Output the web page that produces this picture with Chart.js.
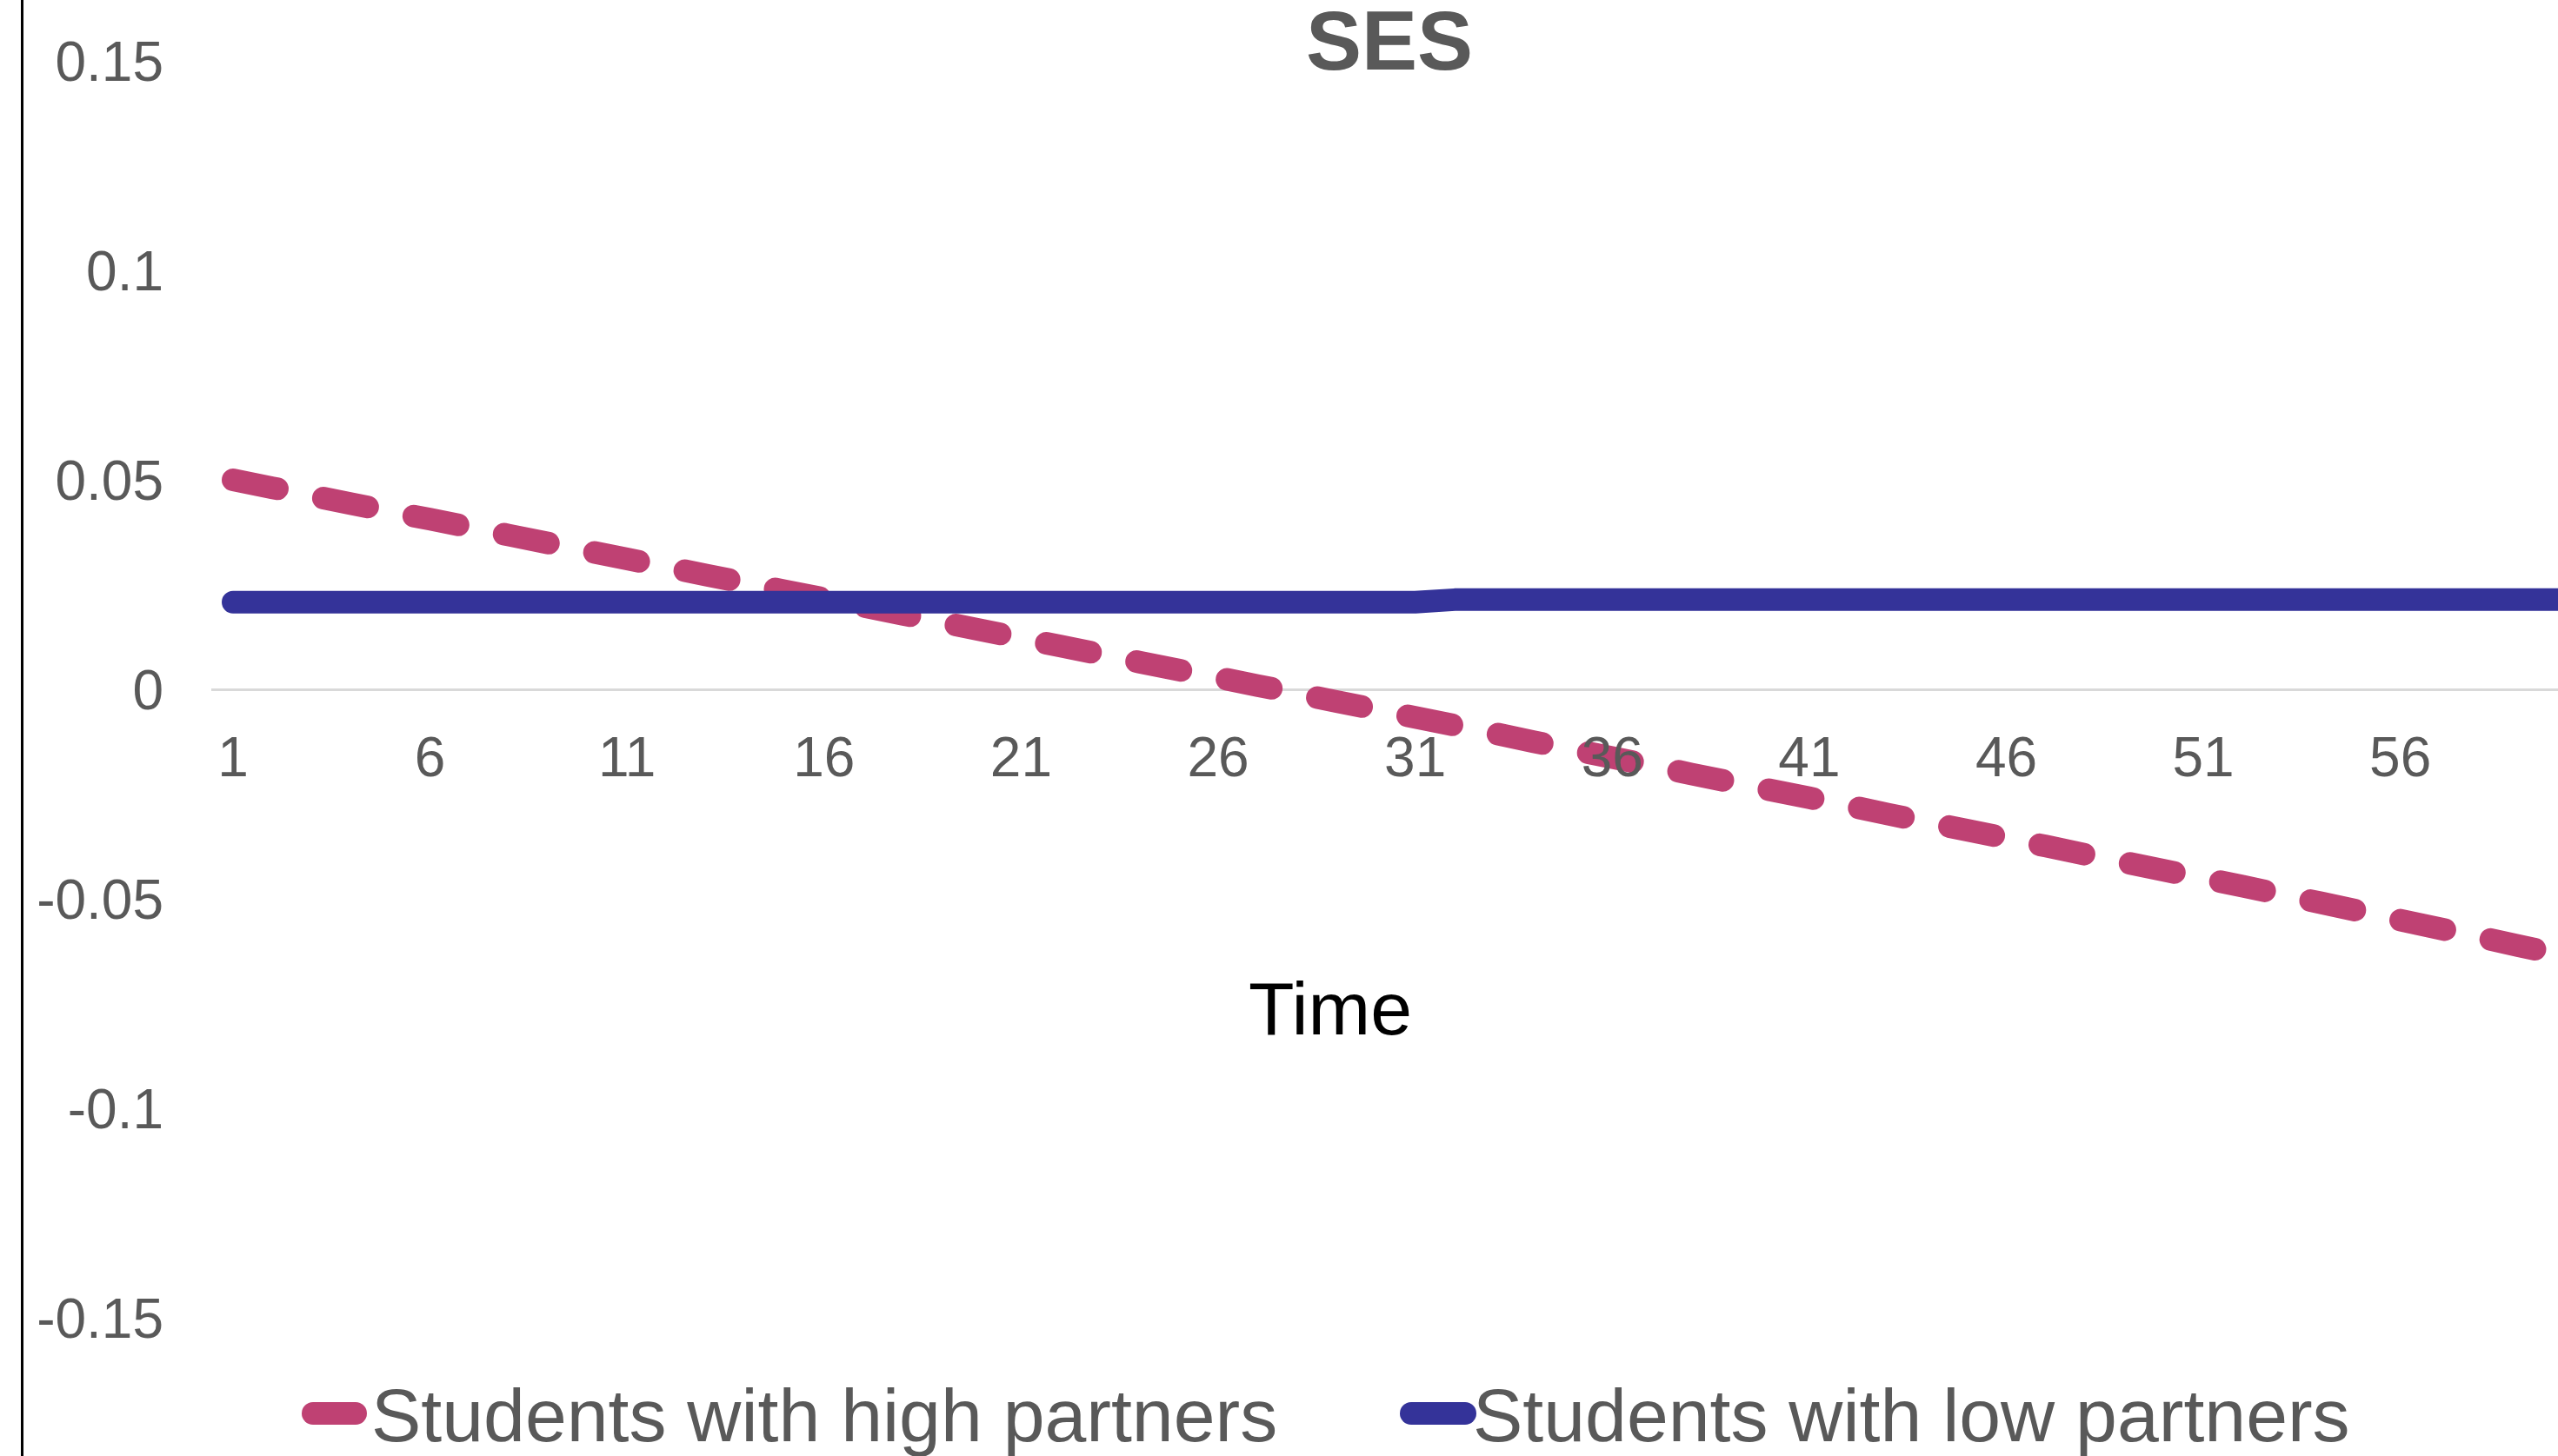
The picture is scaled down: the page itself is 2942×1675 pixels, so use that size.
<!DOCTYPE html>
<html>
<head>
<meta charset="utf-8">
<title>SES</title>
<script src="https://cdn.jsdelivr.net/npm/chart.js@4.4.1/dist/chart.umd.min.js"></script>
<style>
  html, body { margin: 0; padding: 0; background: #ffffff; overflow: hidden; }
  #wrap { position: relative; width: 2942px; height: 1675px; }
  canvas { display: block; }
</style>
</head>
<body>
<div id="wrap"><canvas id="chart" width="2942" height="1675"></canvas></div>
<script>
// ---- chart text ----
const chartTitle = 'SES';
const xAxisTitle = 'Time';
const seriesNames = ['Students with high partners', 'Students with low partners'];

// ---- time points (x) ----
const timePoints = [
  1, 2, 3, 4, 5, 6, 7, 8, 9, 10,
  11, 12, 13, 14, 15, 16, 17, 18, 19, 20,
  21, 22, 23, 24, 25, 26, 27, 28, 29, 30,
  31, 32, 33, 34, 35, 36, 37, 38, 39, 40,
  41, 42, 43, 44, 45, 46, 47, 48, 49, 50,
  51, 52, 53, 54, 55, 56, 57, 58, 59, 60
];

// ---- tick labels ----
const xTickValues = [1, 6, 11, 16, 21, 26, 31, 36, 41, 46, 51, 56];
const yTickValues = [-0.15, -0.1, -0.05, 0, 0.05, 0.1, 0.15];

// ---- series values ----
const highPartners = [
  0.0500, 0.0481, 0.0462, 0.0443, 0.0424, 0.0406, 0.0387, 0.0368, 0.0349, 0.0330,
  0.0311, 0.0292, 0.0273, 0.0254, 0.0235, 0.0217, 0.0198, 0.0179, 0.0160, 0.0141,
  0.0122, 0.0103, 0.0084, 0.0065, 0.0046, 0.0028, 0.0009, -0.0010, -0.0029, -0.0048,
  -0.0067, -0.0086, -0.0105, -0.0125, -0.0144, -0.0163, -0.0182, -0.0202, -0.0221, -0.0240,
  -0.0259, -0.0278, -0.0298, -0.0317, -0.0336, -0.0355, -0.0374, -0.0394, -0.0413, -0.0432,
  -0.0451, -0.0470, -0.0490, -0.0510, -0.0530, -0.0551, -0.0571, -0.0591, -0.0612, -0.0632
];
const lowPartners = [
  0.0208, 0.0208, 0.0208, 0.0208, 0.0208, 0.0208, 0.0208, 0.0208, 0.0208, 0.0208,
  0.0208, 0.0208, 0.0208, 0.0208, 0.0208, 0.0208, 0.0208, 0.0208, 0.0208, 0.0208,
  0.0208, 0.0208, 0.0208, 0.0208, 0.0208, 0.0208, 0.0208, 0.0208, 0.0208, 0.0208,
  0.0208, 0.0214, 0.0214, 0.0214, 0.0214, 0.0214, 0.0214, 0.0214, 0.0214, 0.0214,
  0.0214, 0.0214, 0.0214, 0.0214, 0.0214, 0.0214, 0.0214, 0.0214, 0.0214, 0.0214,
  0.0214, 0.0214, 0.0214, 0.0214, 0.0214, 0.0214, 0.0214, 0.0214, 0.0214, 0.0214
];

// ---- styling ----
const FONT = '"Liberation Sans", Arial, sans-serif';
const PINK = '#BF4173';
const BLUE = '#343399';
const TEXT_GREY = '#595959';
const LINE_W = 26;
const Y_LABEL_NUDGE = 5; // digits sit slightly below their tick

const toPoints = (vals) => timePoints.map((t, i) => ({ x: t, y: vals[i] }));

// Frame line, overlay title, axis title and legend
const decor = {
  id: 'decor',
  beforeDraw(chart) {
    const ctx = chart.ctx;
    ctx.save();
    ctx.fillStyle = '#ffffff';
    ctx.fillRect(0, 0, chart.width, chart.height);
    ctx.fillStyle = '#000000';
    ctx.fillRect(24, 0, 3, chart.height);
    ctx.restore();

    const yScale = chart.scales.y;
    yScale.getLabelItems(chart.chartArea).forEach((item) => {
      if (!item._nudged) {
        item.options.translation[1] += Y_LABEL_NUDGE;
        item._nudged = true;
      }
    });
  },
  afterDraw(chart) {
    const ctx = chart.ctx;
    ctx.save();
    ctx.textBaseline = 'alphabetic';

    ctx.fillStyle = TEXT_GREY;
    ctx.font = 'bold 96px ' + FONT;
    ctx.textAlign = 'center';
    ctx.fillText(chartTitle, 1598, 80);

    ctx.fillStyle = '#000000';
    ctx.font = '86px ' + FONT;
    ctx.fillText(xAxisTitle, 1530, 1190);

    const legendItems = [
      { x: 347, len: 75, textX: 427 },
      { x: 1610, len: 88, textX: 1694 }
    ];
    ctx.font = '86px ' + FONT;
    ctx.textAlign = 'left';
    chart.data.datasets.forEach((ds, i) => {
      const it = legendItems[i];
      ctx.strokeStyle = ds.borderColor;
      ctx.lineWidth = LINE_W;
      ctx.lineCap = 'round';
      ctx.beginPath();
      ctx.moveTo(it.x + LINE_W / 2, 1626);
      ctx.lineTo(it.x + it.len - LINE_W / 2, 1626);
      ctx.stroke();
      ctx.fillStyle = TEXT_GREY;
      ctx.fillText(ds.label, it.textX, 1658);
    });
    ctx.restore();
  }
};

new Chart(document.getElementById('chart'), {
  type: 'line',
  data: {
    datasets: [
      {
        label: seriesNames[0],
        data: toPoints(highPartners),
        borderColor: PINK,
        backgroundColor: PINK,
        borderWidth: LINE_W,
        borderDash: [52, 54],
        borderCapStyle: 'round',
        borderJoinStyle: 'round',
        pointRadius: 0,
        tension: 0,
        order: 1
      },
      {
        label: seriesNames[1],
        data: toPoints(lowPartners),
        borderColor: BLUE,
        backgroundColor: BLUE,
        borderWidth: LINE_W,
        borderCapStyle: 'round',
        borderJoinStyle: 'round',
        pointRadius: 0,
        tension: 0,
        order: 0
      }
    ]
  },
  options: {
    responsive: false,
    animation: false,
    devicePixelRatio: 1,
    layout: { padding: { left: 0, right: 0, top: 70, bottom: 159 } },
    plugins: {
      legend: { display: false },
      title: { display: false },
      tooltip: { enabled: false }
    },
    scales: {
      x: {
        type: 'linear',
        min: 0.47,
        max: 60,
        position: { y: 0 },
        afterBuildTicks: (s) => { s.ticks = xTickValues.map(v => ({ value: v })); },
        grid: { display: false, drawTicks: false },
        border: { display: true, color: '#D9D9D9', width: 3, z: 0 },
        ticks: {
          z: 1,
          padding: 44,
          color: TEXT_GREY,
          font: { family: FONT, size: 64 },
          maxRotation: 0,
          autoSkip: false,
          callback: (v) => String(v)
        }
      },
      y: {
        type: 'linear',
        min: -0.15,
        max: 0.15,
        afterBuildTicks: (s) => { s.ticks = yTickValues.map(v => ({ value: v })); },
        afterFit: (s) => {
          s.width = 244;
          // keep the plot edges at the layout padding
          s.paddingTop = 0;
          s.paddingBottom = 0;
        },
        grid: { display: false, drawTicks: false },
        border: { display: false },
        ticks: {
          z: 1,
          padding: 56,
          color: TEXT_GREY,
          font: { family: FONT, size: 64 },
          callback: (v) => String(v)
        }
      }
    }
  },
  plugins: [decor]
});
</script>
</body>
</html>
